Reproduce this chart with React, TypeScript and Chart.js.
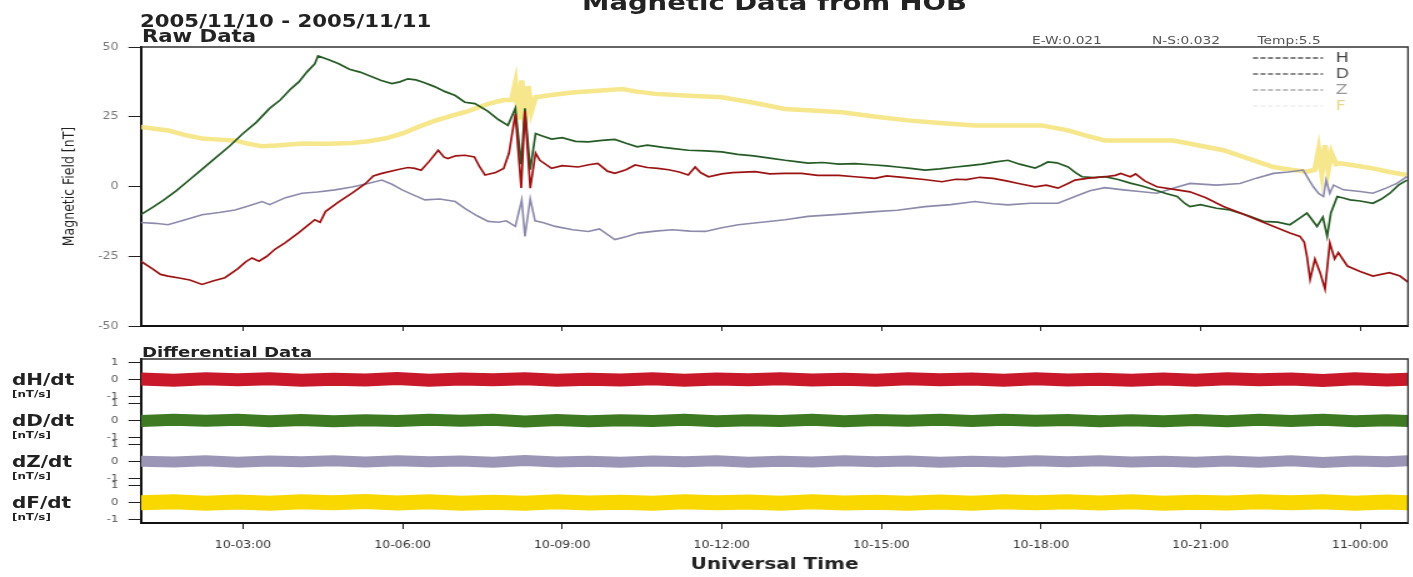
import React, { useEffect, useRef } from 'react';
import { Chart, registerables } from 'chart.js';

Chart.register(...registerables);
Chart.defaults.font.family = '"DejaVu Sans", sans-serif';

// horizontal stretch of the original picture
const S = 1.25;
const W = 1130;

// ---------- axis data ----------
const xMin = 1.083;
const xMax = 24.9;
const tickHours = [3, 6, 9, 12, 15, 18, 21, 24];
const tickLabels = ['10-03:00', '10-06:00', '10-09:00', '10-12:00', '10-15:00', '10-18:00', '10-21:00', '11-00:00'];
const rawTicks = [-50, -25, 0, 25, 50];
const diffTicks = [-1, 0, 1];
const legendLabels = ['H', 'D', 'Z', 'F'];
const diffLabels = ['dH/dt', 'dD/dt', 'dZ/dt', 'dF/dt'];

// ---------- raw data (hours since 10-00:00, nT) ----------
const hHours = [1.08,1.3,1.45,1.59,1.8,2.0,2.23,2.45,2.66,2.9,3.05,3.17,3.3,3.45,3.6,3.79,4.05,4.2,4.35,4.45,4.55,4.8,5.05,5.3,5.45,5.61,5.9,6.1,6.23,6.35,6.5,6.67,6.78,6.85,7.0,7.17,7.35,7.45,7.55,7.75,7.9,8.0,8.12,8.23,8.3,8.4,8.5,8.58,8.8,9.0,9.3,9.5,9.67,9.85,9.99,10.2,10.37,10.6,10.8,11.0,11.2,11.37,11.5,11.6,11.75,12.0,12.2,12.63,12.9,13.19,13.5,13.8,14.2,14.5,14.88,15.1,15.4,15.8,16.14,16.4,16.6,16.85,17.1,17.35,17.6,17.89,18.1,18.32,18.5,18.64,18.9,19.2,19.4,19.5,19.68,19.78,19.95,20.18,20.5,20.8,21.1,21.43,21.75,22.06,22.4,22.68,22.87,22.95,23.0,23.06,23.15,23.25,23.34,23.43,23.52,23.59,23.76,24.0,24.24,24.55,24.75,24.9];
const hValues = [-26.8,-29.5,-31.5,-32.1,-32.8,-33.5,-35.1,-33.8,-32.7,-29.5,-27.0,-25.6,-26.8,-25.0,-22.5,-20.2,-16.5,-14.2,-11.9,-12.8,-9.0,-5.5,-2.4,1.0,3.8,4.7,6.0,6.8,6.5,5.8,9.0,13.0,10.5,10.0,11.0,11.2,10.6,7.0,4.1,5.0,6.5,11.9,26,-0.5,27,-0.6,12,9.4,6.5,7.5,7.0,7.8,8.3,5.5,4.7,6.0,7.7,6.8,6.5,6.0,5.2,4.1,7.0,5.0,3.5,4.5,5.0,5.3,4.5,4.7,4.7,4.0,4.0,3.5,2.9,3.8,3.3,2.5,1.7,2.6,2.5,3.3,2.9,2.0,1.0,-0.1,0.5,-0.6,1.0,2.3,3.0,3.5,4.0,4.7,3.5,4.5,2.0,-0.1,-1.0,-1.9,-4.0,-7.2,-9.5,-11.9,-14.5,-16.7,-17.9,-20,-25,-33.3,-26,-31,-36.8,-20.2,-26,-23.7,-28.5,-30.5,-32.1,-30.9,-32.1,-34.3];

const dHours = [1.08,1.3,1.5,1.75,2.0,2.25,2.5,2.75,3.0,3.25,3.5,3.7,3.9,4.05,4.2,4.35,4.41,4.6,4.8,5.0,5.2,5.4,5.6,5.8,5.95,6.1,6.25,6.4,6.6,6.8,6.99,7.17,7.36,7.6,7.8,7.98,8.12,8.23,8.3,8.4,8.5,8.6,8.8,9.0,9.25,9.49,9.75,9.99,10.2,10.41,10.6,10.9,11.1,11.37,11.7,12.0,12.3,12.6,12.9,13.19,13.4,13.62,13.9,14.2,14.5,14.88,15.1,15.3,15.55,15.82,16.1,16.4,16.65,16.9,17.15,17.38,17.6,17.89,18.0,18.13,18.3,18.51,18.65,18.77,19.0,19.2,19.45,19.68,19.9,20.1,20.35,20.56,20.7,20.8,21.0,21.3,21.55,21.9,22.18,22.45,22.68,22.85,23.0,23.1,23.19,23.3,23.38,23.45,23.57,23.7,23.81,24.0,24.24,24.4,24.56,24.72,24.88];
const dValues = [-10.1,-7.5,-5.0,-1.5,2.5,6.5,10.5,14.5,19.0,23.0,28.0,31.0,35.0,37.5,41.0,44.0,46.8,45.5,44.0,42.0,41.0,39.5,38.0,36.9,37.5,38.6,38.2,37.3,35.8,34.0,32.6,30.2,29.7,27.0,24.0,21.9,28,8,28,6,19,18.3,17.0,17.5,16.2,16.0,16.5,16.9,15.5,14.2,14.8,14.0,13.6,13.0,12.8,12.4,11.5,11.0,10.2,9.4,8.9,8.4,8.6,8.0,8.2,7.7,7.4,7.0,6.5,5.9,6.3,7.0,7.5,8.0,8.8,9.4,8.0,6.6,7.5,8.8,8.5,7.0,5.0,3.5,3.2,3.5,2.5,1.2,0.2,-1.0,-2.5,-3.6,-6.0,-7.2,-6.5,-7.8,-8.4,-10.5,-12.5,-12.8,-13.7,-11.5,-9.5,-12,-14.3,-11,-17.9,-9.5,-3.6,-4.2,-4.8,-5.2,-6.0,-4.5,-2.4,0.5,2.3];

const zHours = [1.08,1.35,1.59,1.9,2.23,2.55,2.85,3.1,3.36,3.5,3.8,4.11,4.4,4.73,5.05,5.35,5.61,5.8,5.99,6.2,6.42,6.7,6.99,7.17,7.4,7.61,7.8,7.95,8.12,8.24,8.3,8.4,8.49,8.65,8.87,9.2,9.49,9.7,9.99,10.2,10.43,10.75,11.07,11.4,11.69,12.0,12.31,12.75,13.19,13.62,14.2,14.88,15.3,15.82,16.3,16.76,17.1,17.38,17.8,18.32,18.64,18.92,19.2,19.55,19.85,20.18,20.5,20.8,21.3,21.74,22.05,22.37,22.65,22.93,23.05,23.12,23.22,23.31,23.36,23.43,23.5,23.69,24.0,24.24,24.5,24.69,24.88];
const zValues = [-12.9,-13.2,-13.7,-12.0,-10.1,-9.3,-8.4,-7.0,-5.4,-6.5,-4.0,-2.4,-2.0,-1.2,-0.2,1.1,2.3,0.8,-1.2,-3.0,-4.8,-4.5,-5.4,-7.8,-10.5,-12.5,-12.8,-12.3,-14.3,-4.8,-17.9,-4.4,-12.3,-13.0,-14.3,-15.5,-16.1,-15.2,-19.0,-18.0,-16.7,-16.0,-15.5,-16.0,-16.1,-14.8,-13.7,-12.8,-11.9,-10.7,-10.0,-9.0,-8.5,-7.2,-6.5,-5.4,-6.2,-6.6,-6.0,-6.0,-3.6,-1.5,-0.4,-1.2,-1.8,-2.4,-0.5,1.1,0.5,1.1,3.0,4.7,5.2,5.9,2.0,-0.1,-2.5,-3.6,2.3,-2.5,0.5,-1.2,-1.8,-2.4,-0.5,1.1,3.5];

const fHours = [1.08,1.3,1.59,1.9,2.23,2.55,2.85,3.1,3.36,3.7,4.11,4.6,5.05,5.35,5.67,6.0,6.29,6.6,6.93,7.2,7.61,7.9,8.05,8.12,8.18,8.24,8.3,8.36,8.42,8.5,8.8,9.19,9.6,10.13,10.4,10.75,11.4,12.0,12.6,13.19,13.7,14.26,14.9,15.5,16.1,16.76,17.4,18.01,18.51,18.9,19.2,19.82,20.49,20.95,21.43,21.9,22.37,22.7,23.0,23.15,23.22,23.28,23.34,23.4,23.46,23.55,23.62,23.9,24.24,24.55,24.88];
const fValues = [21.3,20.8,20.1,18.5,17.2,16.8,16.5,15.3,14.4,14.8,15.4,15.3,15.6,16.2,17.2,19.0,21.3,23.5,25.4,26.8,29.6,31.0,31,37,24,38,22,36,27,32,32.8,33.7,34.2,34.9,34.0,33.2,32.5,32.0,30.0,27.8,27.2,26.6,25.0,23.7,22.8,21.9,21.9,21.9,20.1,18.0,16.5,16.5,16.5,14.8,13.0,10.0,7.0,6.0,5.3,6,13,5,14.8,6,12,8,8.3,7.5,6.5,5.2,4.1];

// ---------- differential data (nT/s) ----------
const diffHours = [1.08,1.7,2.3,2.9,3.5,4.1,4.7,5.3,5.9,6.5,7.1,7.7,8.3,8.9,9.5,10.1,10.7,11.3,11.9,12.5,13.1,13.7,14.3,14.9,15.5,16.1,16.7,17.3,17.9,18.5,19.1,19.7,20.3,20.9,21.5,22.1,22.7,23.3,23.9,24.5,24.9];
const dHdtValues = [0.03,-0.04,0.05,-0.02,0.04,-0.05,0.02,-0.03,0.06,-0.04,0.03,-0.02,0.05,-0.05,0.02,-0.03,0.04,-0.04,0.03,-0.02,0.05,-0.03,0.02,-0.05,0.04,-0.02,0.03,-0.04,0.05,-0.03,0.02,-0.04,0.03,-0.05,0.04,-0.02,0.03,-0.06,0.04,-0.03,0.02];
const dDdtValues = [-0.03,0.04,-0.02,0.05,-0.04,0.03,-0.05,0.02,-0.03,0.04,-0.02,0.05,-0.06,0.03,-0.04,0.02,-0.03,0.05,-0.04,0.02,-0.03,0.04,-0.05,0.03,-0.02,0.04,-0.03,0.05,-0.02,0.03,-0.04,0.02,-0.05,0.03,-0.04,0.05,-0.03,0.04,-0.05,0.02,-0.03];
const dZdtValues = [0.02,-0.03,0.04,-0.05,0.03,-0.02,0.04,-0.03,0.05,-0.02,0.03,-0.04,0.06,-0.03,0.02,-0.04,0.03,-0.02,0.05,-0.04,0.02,-0.03,0.04,-0.02,0.03,-0.05,0.02,-0.03,0.04,-0.02,0.05,-0.03,0.02,-0.04,0.03,-0.05,0.04,-0.06,0.03,-0.02,0.04];
const dFdtValues = [-0.02,0.05,-0.04,0.03,-0.05,0.04,-0.02,0.06,-0.03,0.04,-0.05,0.02,-0.04,0.05,-0.03,0.02,-0.05,0.04,-0.02,0.03,-0.04,0.05,-0.03,0.02,-0.04,0.03,-0.05,0.04,-0.02,0.05,-0.03,0.04,-0.05,0.02,-0.03,0.04,-0.02,0.05,-0.04,0.03,-0.02];

const pts = (xs: number[], ys: number[]) => xs.map((x, i) => ({ x, y: ys[i] }));

const legendLineColors = ['#555555', '#666666', '#aaaaaa', '#eeeeee'];
const legendTextColors = ['#444444', '#555555', '#9a9a9a', '#e6d88a'];

const framePlugin = {
  id: 'frameLines',
  afterDatasetsDraw(chart: any) {
    const { ctx, chartArea } = chart;
    const { left, right, top, bottom } = chartArea;
    ctx.save();
    ctx.strokeStyle = '#333';
    ctx.lineWidth = 1.3;
    ctx.beginPath();
    ctx.moveTo(left, top);
    ctx.lineTo(right, top);
    ctx.lineTo(right, bottom);
    ctx.stroke();
    ctx.restore();
  },
};

const legendPlugin = {
  id: 'hobLegend',
  afterDraw(chart: any) {
    const { ctx, chartArea } = chart;
    ctx.save();
    legendLabels.forEach((lab, i) => {
      const y = chartArea.top + 11 + 16 * i;
      ctx.setLineDash([4, 2]);
      ctx.lineWidth = 1.5;
      ctx.strokeStyle = legendLineColors[i];
      ctx.beginPath();
      ctx.moveTo(chartArea.right - 124, y);
      ctx.lineTo(chartArea.right - 68, y);
      ctx.stroke();
      ctx.setLineDash([]);
      ctx.fillStyle = legendTextColors[i];
      ctx.font = '14px "DejaVu Sans"';
      ctx.textBaseline = 'middle';
      ctx.textAlign = 'left';
      ctx.fillText(lab, chartArea.right - 58, y);
    });
    ctx.restore();
  },
};

const setXTicks = (axis: any) => {
  axis.ticks = tickHours.map((v) => ({ value: v }));
};
const xLabel = (v: any) => {
  const i = tickHours.indexOf(Number(v));
  return i >= 0 ? tickLabels[i] : '';
};

export default function App() {
  const topRef = useRef<HTMLCanvasElement | null>(null);
  const diffRef = useRef<HTMLCanvasElement | null>(null);

  useEffect(() => {
    document.body.style.overflow = 'hidden';
    const top = new Chart(topRef.current as HTMLCanvasElement, {
      type: 'line',
      data: {
        datasets: [
          { label: 'H', data: pts(hHours, hValues), borderColor: '#9c1212', borderWidth: 1.7 },
          { label: 'D', data: pts(dHours, dValues), borderColor: '#245a24', borderWidth: 1.7 },
          { label: 'Z', data: pts(zHours, zValues), borderColor: '#8c8aab', borderWidth: 1.6 },
          { label: 'F', data: pts(fHours, fValues), borderColor: 'rgba(244,226,120,0.85)', borderWidth: 4.5 },
        ],
      },
      options: {
        responsive: false,
        animation: false,
        events: [],
        parsing: false as any,
        elements: { point: { radius: 0 }, line: { tension: 0 } },
        layout: { padding: { top: 47, left: 44, right: 3.6, bottom: 0 } },
        plugins: { legend: { display: false }, tooltip: { enabled: false } },
        scales: {
          x: {
            type: 'linear',
            min: xMin,
            max: xMax,
            afterBuildTicks: setXTicks,
            afterFit: (a: any) => { a.height = 12; },
            ticks: { display: false },
            grid: { display: true, drawOnChartArea: false, drawTicks: true, tickLength: 5, color: '#222' },
            border: { display: true, color: '#111', width: 2 },
          },
          y: {
            type: 'linear',
            min: -50,
            max: 50,
            afterBuildTicks: (a: any) => { a.ticks = rawTicks.map((v) => ({ value: v })); },
            afterFit: (a: any) => { a.width = 68.8; },
            ticks: { font: { size: 10 }, color: '#777', padding: 8 },
            grid: { display: true, drawOnChartArea: false, drawTicks: true, tickLength: 10, color: '#222' },
            border: { display: true, color: '#111', width: 2 },
            title: { display: true, text: 'Magnetic Field [nT]', font: { size: 12.5 }, color: '#222', padding: { top: 4, bottom: 4 } },
          },
        },
      } as any,
      plugins: [framePlugin, legendPlugin],
    });

    const yAxis = (stackLabel: string) => ({
      type: 'linear',
      position: 'left',
      stack: 'diff',
      stackWeight: 1,
      min: -1.2,
      max: 1.2,
      afterBuildTicks: (a: any) => { a.ticks = diffTicks.map((v) => ({ value: v })); },
      afterFit: (a: any) => { a.width = 112.8; },
      ticks: { font: { size: 9.5 }, color: '#555', padding: 8, autoSkip: false },
      grid: { display: true, drawOnChartArea: false, drawTicks: true, tickLength: 10, color: '#222' },
      border: { display: true, color: '#111', width: 2 },
      title: { display: false, text: stackLabel },
    });

    const diff = new Chart(diffRef.current as HTMLCanvasElement, {
      type: 'line',
      data: {
        datasets: [
          { label: 'dH/dt', data: pts(diffHours, dHdtValues), borderColor: '#c8182a', borderWidth: 13, yAxisID: 'yH' },
          { label: 'dD/dt', data: pts(diffHours, dDdtValues), borderColor: '#3d7a22', borderWidth: 12, yAxisID: 'yD' },
          { label: 'dZ/dt', data: pts(diffHours, dZdtValues), borderColor: '#9c96b6', borderWidth: 11, yAxisID: 'yZ' },
          { label: 'dF/dt', data: pts(diffHours, dFdtValues), borderColor: '#f9d800', borderWidth: 15, yAxisID: 'yF' },
        ],
      },
      options: {
        responsive: false,
        animation: false,
        events: [],
        parsing: false as any,
        elements: { point: { radius: 0 }, line: { tension: 0 } },
        layout: { padding: { top: 19, left: 0, right: 3.6, bottom: 0 } },
        plugins: { legend: { display: false }, tooltip: { enabled: false } },
        scales: {
          x: {
            type: 'linear',
            min: xMin,
            max: xMax,
            afterBuildTicks: setXTicks,
            afterFit: (a: any) => { a.height = 54; },
            ticks: { font: { size: 10 }, color: '#333', padding: 10, maxRotation: 0, autoSkip: false, callback: xLabel },
            grid: { display: true, drawOnChartArea: false, drawTicks: true, tickLength: 6, color: '#222' },
            border: { display: true, color: '#111', width: 2 },
            title: { display: true, text: 'Universal Time', font: { size: 16, weight: 'bold' }, color: '#222', padding: { top: 0, bottom: 3 } },
          },
          yF: yAxis('dF/dt'),
          yZ: yAxis('dZ/dt'),
          yD: yAxis('dD/dt'),
          yH: yAxis('dH/dt'),
        },
      } as any,
      plugins: [framePlugin],
    });

    return () => {
      top.destroy();
      diff.destroy();
    };
  }, []);

  const abs = (extra: React.CSSProperties): React.CSSProperties => ({ position: 'absolute', whiteSpace: 'nowrap', margin: 0, ...extra });

  return (
    <div
      style={{
        position: 'absolute',
        left: 0,
        top: 0,
        width: W,
        height: 577,
        transform: `scaleX(${S})`,
        transformOrigin: '0 0',
        fontFamily: '"DejaVu Sans", sans-serif',
        color: '#222',
        overflow: 'visible',
      }}
    >
      <div style={abs({ left: 619.6, top: -7.6, transform: 'translateX(-50%)', fontSize: 22, lineHeight: '22px', fontWeight: 'bold' })}>
        Magnetic Data from HOB
      </div>
      <div style={abs({ left: 112, top: 12.6, fontSize: 17, lineHeight: '17px', fontWeight: 'bold' })}>2005/11/10 - 2005/11/11</div>
      <div style={abs({ left: 113.5, top: 28, fontSize: 17, lineHeight: '17px', fontWeight: 'bold' })}>Raw Data</div>
      <div style={abs({ left: 825.6, top: 34.7, fontSize: 11, lineHeight: '11px', color: '#555' })}>E-W:0.021</div>
      <div style={abs({ left: 921.6, top: 34.7, fontSize: 11, lineHeight: '11px', color: '#555' })}>N-S:0.032</div>
      <div style={abs({ left: 1006, top: 34.7, fontSize: 11, lineHeight: '11px', color: '#555' })}>Temp:5.5</div>
      <div style={abs({ left: 113.6, top: 345.2, fontSize: 14.5, lineHeight: '14.5px', fontWeight: 'bold' })}>Differential Data</div>
      {diffLabels.map((lab, i) => (
        <React.Fragment key={lab}>
          <div style={abs({ left: 9.6, top: 371.5 + 41 * i, fontSize: 16, lineHeight: '16px', fontWeight: 'bold' })}>{lab}</div>
          <div style={abs({ left: 9.6, top: 389 + 41 * i, fontSize: 9.5, lineHeight: '9.5px', fontWeight: 'bold' })}>[nT/s]</div>
        </React.Fragment>
      ))}
      <canvas ref={topRef} width={W} height={340} style={{ position: 'absolute', left: 0, top: 0 }} />
      <canvas ref={diffRef} width={W} height={237} style={{ position: 'absolute', left: 0, top: 340 }} />
    </div>
  );
}
